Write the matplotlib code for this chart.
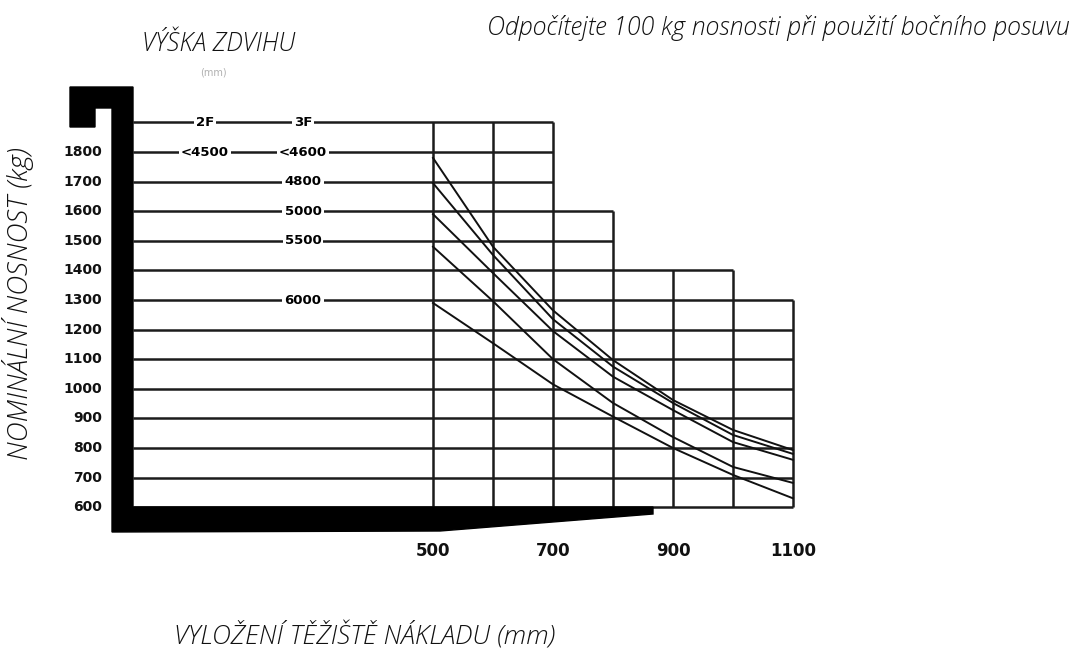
import matplotlib
matplotlib.use("Agg")
import matplotlib.pyplot as plt
from matplotlib.patches import Polygon

# load centre (mm) and capacity (kg) grid
load_centres = [500, 600, 700, 800, 900, 1000, 1100]
column_tops = [1900, 1900, 1600, 1400, 1400, 1300]   # top of each grid column
capacity_levels = [1900, 1800, 1700, 1600, 1500, 1400, 1300, 1200, 1100, 1000, 900, 800, 700, 600]
y_tick_labels = [1800, 1700, 1600, 1500, 1400, 1300, 1200, 1100, 1000, 900, 800, 700, 600]
x_tick_labels = [500, 700, 900, 1100]

# mast height labels on the left (row = capacity level)
mast_rows = [1900, 1800, 1700, 1600, 1500, 1300]
mast_left = ["2F", "<4500", "", "", "", ""]
mast_right = ["3F", "<4600", "4800", "5000", "5500", "6000"]

# capacity curves per lift height, read at load_centres
curve_4600 = [1780, 1480, 1265, 1097, 962, 861, 793]
curve_4800 = [1695, 1452, 1235, 1075, 952, 844, 780]
curve_5000 = [1590, 1391, 1195, 1041, 928, 820, 760]
curve_5500 = [1480, 1296, 1100, 952, 837, 736, 682]
curve_6000 = [1290, 1154, 1015, 906, 800, 709, 630]

W, H = 1075, 664


# pixel -> data helpers (500 mm at px 433, 60 px per 100 mm; 1800 kg at px 152, 29.6 px per 100 kg)
def px2x(px):
    return 500 + (px - 433) / 0.6


def py2y(py):
    return 1800 - (py - 152) / 0.296


fig = plt.figure(figsize=(W / 100, H / 100), dpi=100)
ax = fig.add_axes([0, 0, 1, 1])
ax.set_xlim(px2x(0), px2x(W))
ax.set_ylim(py2y(H), py2y(0))
ax.axis("off")

line_col = "#1c1c1c"
mast_edge = px2x(133)

# horizontal grid lines
for v in capacity_levels:
    right = load_centres[0]
    for i, top in enumerate(column_tops):
        if top >= v:
            right = load_centres[i + 1]
    ax.plot([mast_edge, right], [v, v], color=line_col, lw=1.8, solid_capstyle="butt", zorder=2)

# vertical grid lines
for i, x in enumerate(load_centres):
    tops = []
    if i > 0:
        tops.append(column_tops[i - 1])
    if i < len(column_tops):
        tops.append(column_tops[i])
    ax.plot([x, x], [600, max(tops)], color=line_col, lw=1.8, solid_capstyle="butt", zorder=2)

# curves
for c in [curve_4600, curve_4800, curve_5000, curve_5500, curve_6000]:
    ax.plot(load_centres, c, color="#111111", lw=1.4, zorder=3)

# mast + fork silhouette
mast_px = [(70, 87), (133, 87), (133, 507), (653, 507), (653, 514), (440, 531),
           (112, 532), (112, 108), (95, 108), (95, 127), (70, 127)]
ax.add_patch(Polygon([(px2x(a), py2y(b)) for a, b in mast_px], closed=True,
                     facecolor="black", edgecolor="black", zorder=5))

# mast height labels
lab_kw = dict(ha="center", va="center", fontsize=9.5, fontweight="bold", zorder=6,
              bbox=dict(facecolor="white", edgecolor="none", pad=1.5))
for v, l, r in zip(mast_rows, mast_left, mast_right):
    if l:
        ax.text(px2x(205), v, l, **lab_kw)
    ax.text(px2x(303), v, r, **lab_kw)

# tick labels
for v in y_tick_labels:
    ax.text(px2x(102), v, str(v), ha="right", va="center", fontsize=10,
            fontweight="bold", color="#111111")
for x in x_tick_labels:
    ax.text(x, py2y(551), str(x), ha="center", va="center", fontsize=12,
            fontweight="bold", color="#111111")

# titles
tkw = dict(family="Open Sans", style="italic", fontweight="light", color="#111111")
ax.text(px2x(219), py2y(45), "VÝŠKA ZDVIHU", ha="center", va="center", fontsize=18, **tkw)
ax.text(px2x(1070), py2y(28), "Odpočítejte 100 kg nosnosti při použití bočního posuvu",
        ha="right", va="center", fontsize=18, **tkw)
ax.text(px2x(18), py2y(303), "NOMINÁLNÍ NOSNOST (kg)", ha="center", va="center",
        rotation=90, fontsize=20, **tkw)
ax.text(px2x(365), py2y(637), "VYLOŽENÍ TĚŽIŠTĚ NÁKLADU (mm)", ha="center", va="center",
        fontsize=19, **tkw)
ax.text(px2x(213), py2y(73), "(mm)", ha="center", va="center", fontsize=7, color="#b0b0b0")

fig.savefig("out.png", dpi=100)
